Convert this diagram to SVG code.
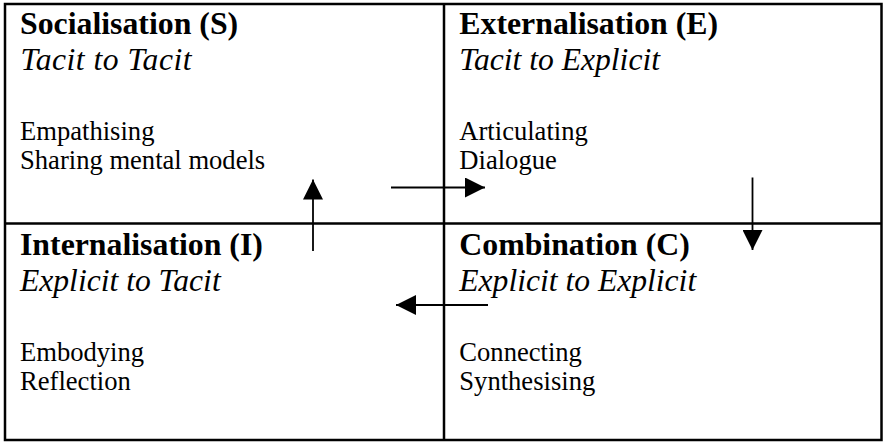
<svg xmlns="http://www.w3.org/2000/svg" width="884" height="442" viewBox="0 0 884 442">
<style>
text{font-family:"Liberation Serif","Times New Roman",serif;fill:#000}
.t{font-weight:bold;font-size:31.8px}
.i{font-style:italic;font-size:31.6px}
.b{font-size:26.6px}
.grid{fill:none;stroke:#000;stroke-width:2.5}
.arr{fill:none;stroke:#000;stroke-width:1.8}
</style>
<defs>
<marker id="ah" viewBox="0 0 20 20" markerWidth="20" markerHeight="20" refX="20" refY="10" orient="auto" markerUnits="userSpaceOnUse">
<path d="M0,0 L20,10 L0,20 Z" fill="#000"/>
</marker>
</defs>
<rect x="0" y="0" width="884" height="442" fill="#fff"/>
<g id="grid">
<rect class="grid" x="5" y="4" width="876.5" height="436"/>
<line class="grid" x1="444" y1="4" x2="444" y2="440"/>
<line class="grid" x1="5" y1="223.5" x2="881.5" y2="223.5"/>
</g>
<g id="socialisation">
<text class="t" x="20" y="34">Socialisation (S)</text>
<text class="i" x="20.5" y="70" textLength="171" lengthAdjust="spacing">Tacit to Tacit</text>
<text class="b" x="20" y="140">Empathising</text>
<text class="b" x="20" y="169">Sharing mental models</text>
</g>
<g id="externalisation">
<text class="t" x="459.3" y="34">Externalisation (E)</text>
<text class="i" x="459.3" y="70">Tacit to Explicit</text>
<text class="b" x="459.3" y="140">Articulating</text>
<text class="b" x="459.3" y="169">Dialogue</text>
</g>
<g id="internalisation">
<text class="t" x="20" y="254.5">Internalisation (I)</text>
<text class="i" x="20" y="290.5">Explicit to Tacit</text>
<text class="b" x="20" y="360.5">Embodying</text>
<text class="b" x="20" y="389.5">Reflection</text>
</g>
<g id="combination">
<text class="t" x="459.3" y="254.5">Combination (C)</text>
<text class="i" x="459.3" y="290.5">Explicit to Explicit</text>
<text class="b" x="459.3" y="360.5">Connecting</text>
<text class="b" x="459.3" y="389.5">Synthesising</text>
</g>
<g id="connectors">
<line class="arr" x1="313" y1="251" x2="313" y2="179.5" marker-end="url(#ah)"/>
<line class="arr" x1="391" y1="187.5" x2="485" y2="187.5" marker-end="url(#ah)"/>
<line class="arr" x1="752.5" y1="177.5" x2="752.5" y2="250" marker-end="url(#ah)"/>
<line class="arr" x1="488" y1="305" x2="396" y2="305" marker-end="url(#ah)"/>
</g>
</svg>
